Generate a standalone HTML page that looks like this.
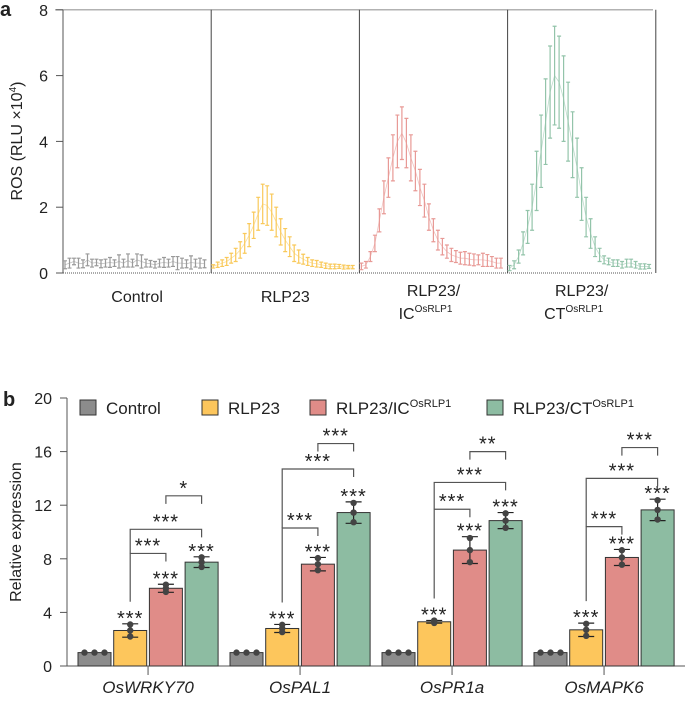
<!DOCTYPE html>
<html><head><meta charset="utf-8"><style>
body{margin:0;background:#fff;font-family:"Liberation Sans",sans-serif}
svg text{font-family:"Liberation Sans",sans-serif;fill:#222}
</style></head><body>
<svg id="fig" width="685" height="699" viewBox="0 0 685 699" xmlns="http://www.w3.org/2000/svg">
<text x="0" y="16" font-size="20" font-weight="bold">a</text>
<text x="3" y="406" font-size="20" font-weight="bold">b</text>
<g id="pa"></g>
<g id="pb"></g>
</svg>
<script>
// ===== Panel a data =====
const rosGroups=["Control","RLP23","RLP23/IC","RLP23/CT"];
const rosControl=[0.25,0.3,0.35,0.3,0.28,0.4,0.3,0.32,0.28,0.3,0.32,0.3,0.35,0.3,0.38,0.3,0.4,0.35,0.3,0.28,0.25,0.3,0.32,0.3,0.35,0.3,0.3,0.28,0.32,0.3,0.3,0.28];
const rosControlErr=[0.12,0.15,0.1,0.15,0.12,0.18,0.12,0.1,0.12,0.12,0.15,0.1,0.2,0.12,0.2,0.12,0.18,0.2,0.12,0.1,0.1,0.12,0.15,0.12,0.15,0.2,0.15,0.12,0.2,0.12,0.15,0.12];
const rosRLP23=[0.2,0.25,0.3,0.35,0.45,0.55,0.7,0.9,1.15,1.45,1.8,2.1,2.05,1.85,1.55,1.25,1.0,0.8,0.6,0.5,0.42,0.35,0.3,0.28,0.25,0.22,0.2,0.2,0.2,0.18,0.18,0.18];
const rosRLP23Err=[0.05,0.08,0.1,0.12,0.15,0.2,0.25,0.3,0.35,0.4,0.5,0.6,0.6,0.55,0.45,0.4,0.35,0.3,0.25,0.2,0.15,0.12,0.1,0.1,0.08,0.08,0.07,0.07,0.06,0.06,0.05,0.05];
const rosIC=[0.2,0.25,0.5,0.9,1.6,2.3,2.9,3.5,4.0,4.25,3.95,3.5,3.1,2.6,2.2,1.7,1.3,1.0,0.8,0.65,0.55,0.5,0.45,0.45,0.42,0.4,0.4,0.4,0.38,0.35,0.3,0.3];
const rosICErr=[0.1,0.1,0.15,0.25,0.35,0.5,0.6,0.7,0.8,0.8,0.75,0.7,0.6,0.55,0.5,0.4,0.35,0.3,0.25,0.2,0.2,0.18,0.18,0.2,0.18,0.18,0.15,0.2,0.18,0.15,0.15,0.15];
const rosCT=[0.15,0.25,0.5,0.9,1.4,2.0,2.8,3.7,4.6,5.5,6.0,5.8,5.3,4.6,3.9,3.2,2.4,1.7,1.2,0.8,0.55,0.4,0.35,0.3,0.3,0.25,0.3,0.3,0.25,0.2,0.2,0.2];
const rosCTErr=[0.08,0.12,0.2,0.35,0.5,0.7,0.9,1.1,1.3,1.4,1.5,1.4,1.3,1.2,1.0,0.9,0.8,0.6,0.45,0.3,0.2,0.12,0.1,0.1,0.1,0.1,0.12,0.12,0.1,0.08,0.08,0.06];
const rosTicks=[0,2,4,6,8];
// ===== Panel b data =====
const genes=["OsWRKY70","OsPAL1","OsPR1a","OsMAPK6"];
const series=["Control","RLP23","RLP23/IC","RLP23/CT"];
const meanControl=[1,1,1,1];
const meanRLP23=[2.65,2.8,3.3,2.7];
const meanIC=[5.8,7.6,8.65,8.1];
const meanCT=[7.75,11.45,10.85,11.65];
const sdControl=[0,0,0,0];
const sdRLP23=[0.5,0.3,0.1,0.5];
const sdIC=[0.3,0.5,1.0,0.6];
const sdCT=[0.4,0.8,0.6,0.8];
const sigICvsRLP=[8.4,10.3,11.7,10.4];
const sigCTvsRLP=[10.2,14.7,13.7,14.0];
const sigCTvsIC=[12.7,16.6,16.0,16.3];
const sigCTvsICLabel=["*","***","**","***"];
const expTicks=[0,4,8,12,16,20];

const NS="http://www.w3.org/2000/svg";
function mk(parent,tag,attrs,text){const e=document.createElementNS(NS,tag);for(const k in attrs)e.setAttribute(k,attrs[k]);if(text!==undefined)e.textContent=text;parent.appendChild(e);return e;}

// ---- panel a ----
const pa=document.getElementById('pa');
const aY=v=>273-v*32.9;
const aL=63,aW=148.2;
const aX=(g,i)=>aL+g*aW+2+i*4.5;
let e;
e=mk(pa,'line',{x1:55,x2:653,y1:aY(8),y2:aY(8),stroke:'#999','stroke-width':1.2});

e=mk(pa,'line',{x1:aL,x2:aL,y1:aY(8),y2:aY(0),stroke:'#555','stroke-width':1});

e=mk(pa,'line',{x1:aL,x2:653,y1:aY(0),y2:aY(0),stroke:'#555','stroke-width':1,'stroke-dasharray':'1 1'});

for(let g=1;g<=4;g++){e=mk(pa,'line',{x1:aL+g*aW,x2:aL+g*aW,y1:aY(8),y2:aY(0),stroke:'#444','stroke-width':1});
}
rosTicks.forEach(t=>{e=mk(pa,'line',{x1:56,x2:aL,y1:aY(t),y2:aY(t),stroke:'#555'});

e=mk(pa,'text',{x:48,y:aY(t)+6,'font-size':16,'text-anchor':'end'},t);
});
e=mk(pa,'text',{transform:'translate(22,141) rotate(-90)','font-size':16,'text-anchor':'middle'});
e.innerHTML='ROS (RLU ×10<tspan dy="-6" font-size="10">4</tspan><tspan dy="6">)</tspan>';

const aSeries=[[rosControl,rosControlErr,'#9a9a9a'],[rosRLP23,rosRLP23Err,'#f9c95a'],[rosIC,rosICErr,'#e89a96'],[rosCT,rosCTErr,'#93c4aa']];
aSeries.forEach(([vals,errs,col],g)=>{
  const grp=mk(pa,'g',{});
  
  let pts=vals.map((v,i)=>aX(g,i)+','+aY(v)).join(' ');
  mk(grp,'polyline',{points:pts,fill:'none',stroke:col,'stroke-width':0.8,opacity:0.6});
  vals.forEach((v,i)=>{const x=aX(g,i),lo=aY(Math.max(0,v-errs[i])),hi=aY(v+errs[i]);
    const b=mk(grp,'path',{d:`M${x},${lo}V${hi}M${x-2},${hi}H${x+2}M${x-2},${lo}H${x+2}`,stroke:col,'stroke-width':1.2,fill:'none'});
    });
});
const aLab=[['Control',null],['RLP23',null],['RLP23/','IC'],['RLP23/','CT']];
aLab.forEach(([l1,l2],g)=>{const cx=aL+g*aW+aW/2;
  if(!l2){e=mk(pa,'text',{x:cx,y:302,'font-size':16,'text-anchor':'middle'},l1);}
  else{e=mk(pa,'text',{x:cx,y:296,'font-size':16,'text-anchor':'middle'});
    e.innerHTML=`${l1}<tspan x="${cx-8}" y="319">${l2}</tspan><tspan dy="-7" font-size="10">OsRLP1</tspan>`;}
  });

// ---- panel b ----
const pb=document.getElementById('pb');
const bY=v=>666-v*13.4;
const bX=(gi,si)=>78+gi*152+si*35.7;
const BW=33;
const cols=['#8c8c8c','#fdc65c','#e08c88','#8dbca2'];
const means=[meanControl,meanRLP23,meanIC,meanCT];
const sds=[sdControl,sdRLP23,sdIC,sdCT];
e=mk(pb,'line',{x1:67,x2:67,y1:bY(20),y2:bY(0),stroke:'#555'});

e=mk(pb,'line',{x1:67,x2:685,y1:bY(0),y2:bY(0),stroke:'#555'});

expTicks.forEach(t=>{e=mk(pb,'line',{x1:60,x2:67,y1:bY(t),y2:bY(t),stroke:'#555'});

e=mk(pb,'text',{x:52,y:bY(t)+6,'font-size':16,'text-anchor':'end'},t);
});
e=mk(pb,'text',{transform:'translate(21,532) rotate(-90)','font-size':16,'text-anchor':'middle'},'Relative expression');

const stars=(x,y,lab,name)=>{const t=mk(pb,'text',{x:x,y:y+5,'font-size':20,'letter-spacing':'1','text-anchor':'middle'},lab);
  };
genes.forEach((gname,gi)=>{
  const cx=bX(gi,0)+ (3*35.7+BW)/2;
  e=mk(pb,'line',{x1:cx,x2:cx,y1:bY(0),y2:bY(0)+9,stroke:'#555'});
  
  e=mk(pb,'text',{x:cx,y:693,'font-size':17,'font-style':'italic','text-anchor':'middle'},gname);
  
  series.forEach((s,si)=>{
    const m=means[si][gi],sd=sds[si][gi],x=bX(gi,si);
    const r=mk(pb,'rect',{x:x,y:bY(m),width:BW,height:bY(0)-bY(m),fill:cols[si],stroke:'#333','stroke-width':1});
    
    const c=x+BW/2;
    if(sd>0){const eb=mk(pb,'path',{d:`M${c},${bY(m-sd)}V${bY(m+sd)}M${c-8},${bY(m+sd)}H${c+8}M${c-8},${bY(m-sd)}H${c+8}`,stroke:'#222','stroke-width':1.2,fill:'none'});
      }
    const reps=sd>0?[[c,m+sd*0.9],[c,m],[c,m-sd*0.9]]:[[c-10,m],[c,m],[c+10,m]];
    reps.forEach(([px,v])=>{const d=mk(pb,'circle',{cx:px,cy:bY(v),r:3.2,fill:'#444'});
      });
    if(si>0) stars(c,bY(m+sd)-4,'***','significance-stars');
  });
  const cR=bX(gi,1)+BW/2,cI=bX(gi,2)+BW/2,cC=bX(gi,3)+BW/2;
  const lowR=bY(meanRLP23[gi]+sdRLP23[gi])-22;
  const br=(x1,x2,h,y1bot,lab,name)=>{
    const y=bY(h);
    const p=mk(pb,'path',{d:`M${x1},${y1bot}V${y}H${x2}V${y+8}`,stroke:'#555','stroke-width':1.2,fill:'none'});
    
    stars((x1+x2)/2,y-6,lab,name+'-label');
  };
  br(cR,cI,sigICvsRLP[gi],lowR,'***','bracket-rlp23-ic');
  br(cR,cC,sigCTvsRLP[gi],bY(sigICvsRLP[gi]),'***','bracket-rlp23-ct');
  br(cI,cC,sigCTvsIC[gi],bY(sigCTvsIC[gi])+8,sigCTvsICLabel[gi],'bracket-ic-ct');
});
// legend
const legX=[80,202,310,487];
const legT=['Control','RLP23','RLP23/IC','RLP23/CT'];
legT.forEach((t,i)=>{
  const g=mk(pb,'g',{});
  
  mk(g,'rect',{x:legX[i],y:400,width:16,height:15,fill:cols[i],stroke:'#333'});
  const tx=mk(g,'text',{x:legX[i]+26,y:414,'font-size':17});
  tx.innerHTML=i>=2?`${t}<tspan dy="-7" font-size="11">OsRLP1</tspan>`:t;
});
</script>
</body></html>
